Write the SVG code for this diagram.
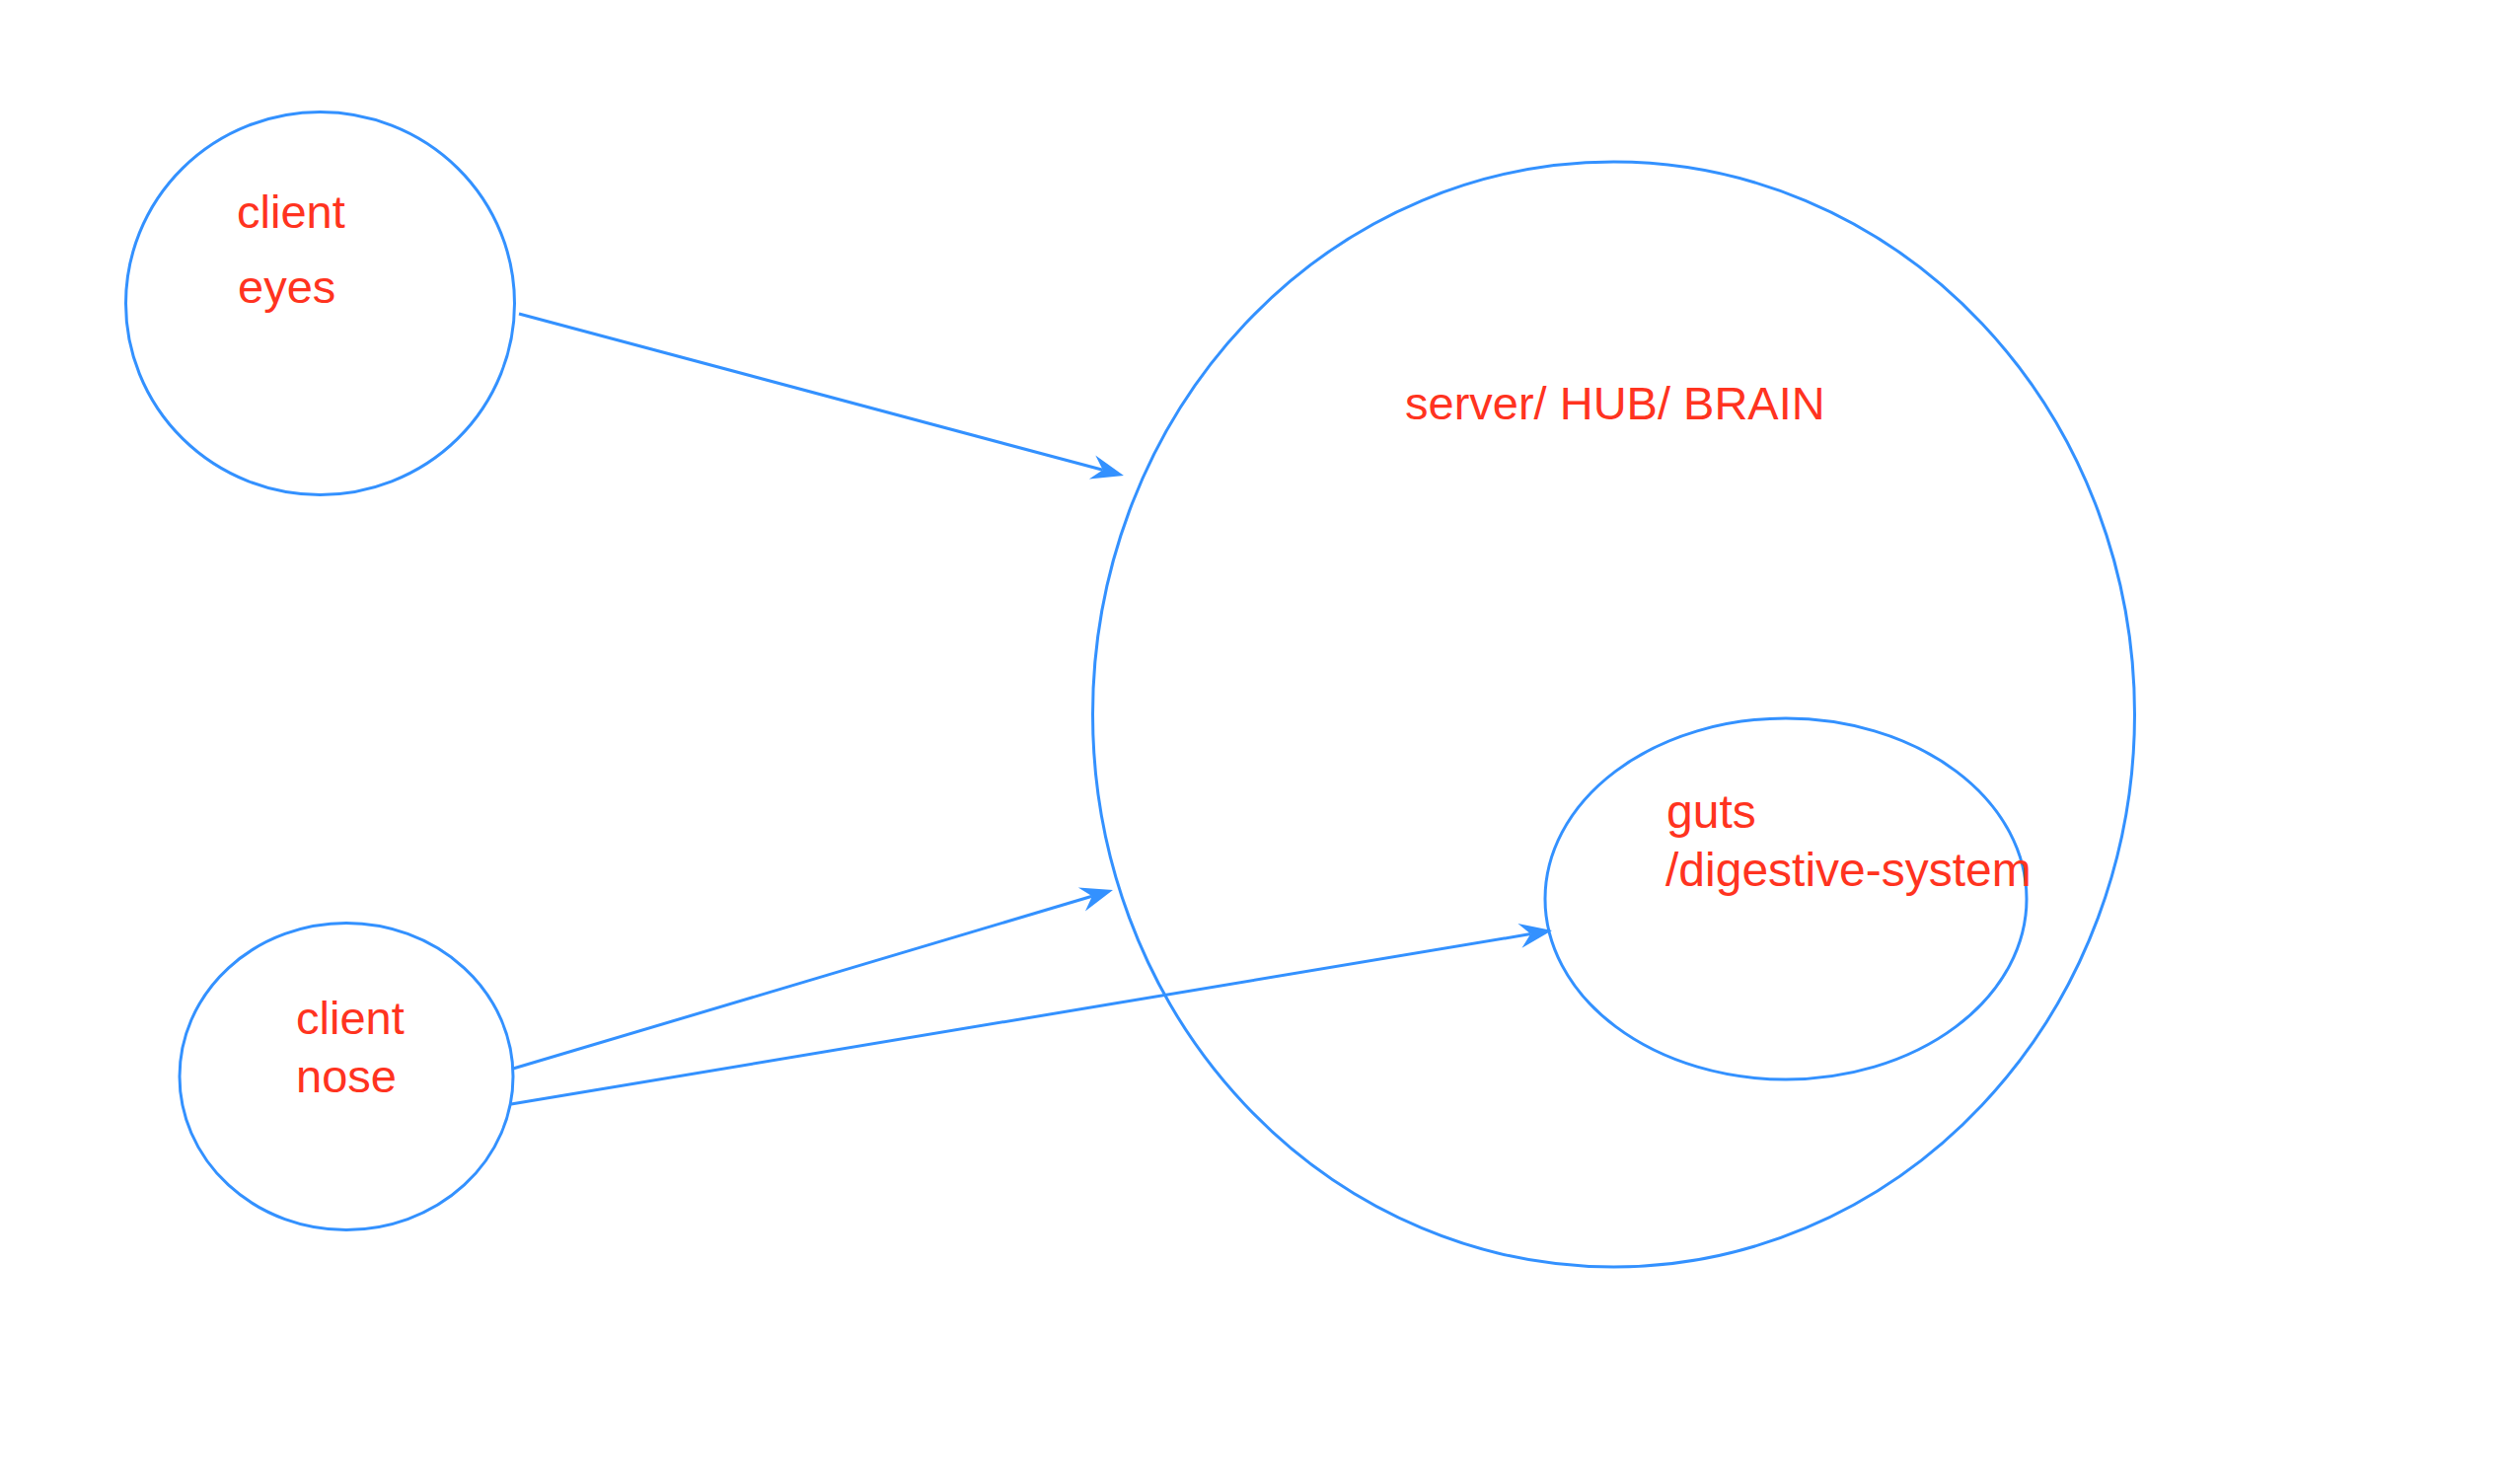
<svg xmlns="http://www.w3.org/2000/svg" width="2548" height="1504" viewBox="0 0 2548 1504">
<style>
.shape{fill:none;stroke:#3391FF;stroke-width:3}
.conn{fill:none;stroke:#3391FF;stroke-width:3}
.lbl{font-family:"Liberation Sans",Arial,Helvetica,sans-serif;font-size:47px;fill:#FF3320}
.big{font-size:48px}
</style>
<defs>
<marker id="arr" markerUnits="userSpaceOnUse" markerWidth="40" markerHeight="30" refX="0" refY="0" orient="auto" overflow="visible">
<path d="M22,0 L-11,-12.5 L0,0 L-11,12.5 Z" fill="#3391FF"/>
</marker>
</defs>
<rect width="2548" height="1504" fill="#fff"/>
<g id="eyes">
<ellipse class="shape" cx="324.5" cy="307.5" rx="197" ry="194"/>
<text class="lbl" x="240" y="231">client</text>
<text class="lbl" x="241" y="307">eyes</text>
</g>
<g id="nose">
<ellipse class="shape" cx="351" cy="1091" rx="169" ry="155.5"/>
<text class="lbl" x="300" y="1048">client</text>
<text class="lbl" x="300" y="1107">nose</text>
</g>
<g id="server">
<ellipse class="shape" cx="1635.5" cy="724" rx="528" ry="560"/>
<text class="lbl" x="1424" y="425">server/ HUB/ BRAIN</text>
</g>
<g id="guts">
<ellipse class="shape" cx="1810" cy="911" rx="244" ry="183"/>
<text class="lbl big" x="1689" y="839">guts</text>
<text class="lbl big" x="1688" y="898">/digestive-system</text>
</g>
<g id="connectors">
<line class="conn" x1="526" y1="318" x2="1117.7" y2="476.3" marker-end="url(#arr)"/>
<line class="conn" x1="520" y1="1083" x2="1106.9" y2="908.3" marker-end="url(#arr)"/>
<line class="conn" x1="518" y1="1119" x2="1551.3" y2="946.6" marker-end="url(#arr)"/>
</g>
</svg>
